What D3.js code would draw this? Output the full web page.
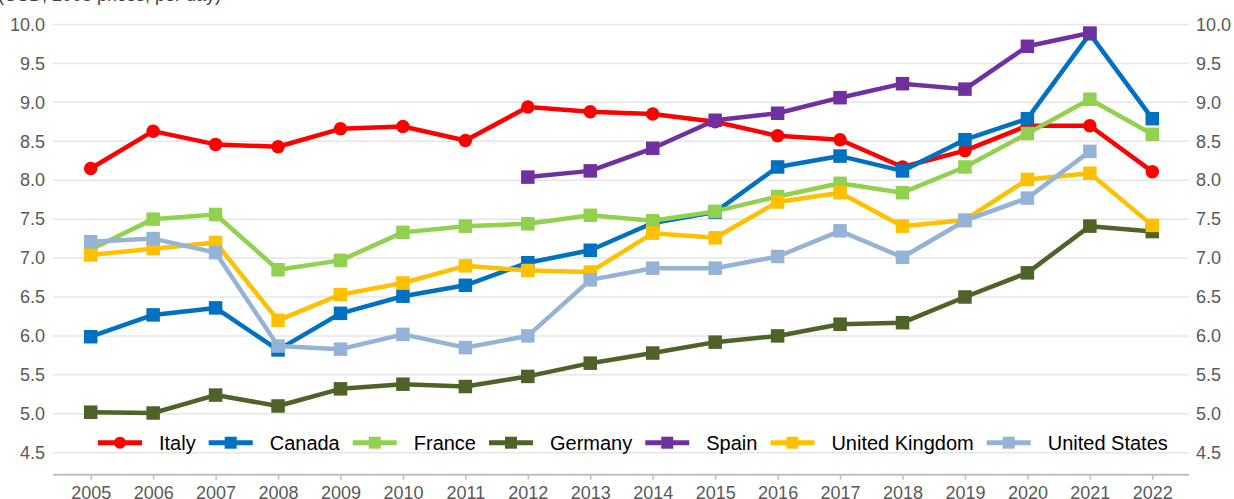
<!DOCTYPE html>
<html>
<head>
<meta charset="utf-8">
<script src="https://cdn.jsdelivr.net/npm/d3@7/dist/d3.min.js"></script>
<style>
	body { margin: 0; background: #fff; }
	svg { display: block; font-family: "Liberation Sans", Arial, sans-serif; }
</style>
</head>
<body>
<div id="chart-area"></div>
<script>

// data
var years = ['2005','2006','2007','2008','2009','2010','2011','2012','2013','2014','2015','2016','2017','2018','2019','2020','2021','2022'];

var italy   = [8.15, 8.63, 8.46, 8.43, 8.66, 8.69, 8.51, 8.94, 8.88, 8.85, 8.75, 8.57, 8.52, 8.17, 8.38, 8.70, 8.70, 8.11];
var canada  = [5.99, 6.27, 6.36, 5.82, 6.29, 6.51, 6.65, 6.94, 7.10, 7.45, 7.59, 8.17, 8.31, 8.12, 8.52, 8.79, 9.88, 8.79];
var france  = [7.11, 7.50, 7.56, 6.85, 6.97, 7.33, 7.41, 7.44, 7.55, 7.48, 7.60, 7.79, 7.96, 7.84, 8.17, 8.60, 9.04, 8.59];
var germany = [5.02, 5.01, 5.24, 5.10, 5.32, 5.38, 5.35, 5.48, 5.65, 5.78, 5.92, 6.00, 6.15, 6.17, 6.50, 6.81, 7.41, 7.34];
var spain   = [null, null, null, null, null, null, null, 8.04, 8.12, 8.41, 8.77, 8.86, 9.06, 9.24, 9.17, 9.72, 9.89, null];
var uk      = [7.04, 7.12, 7.20, 6.20, 6.53, 6.68, 6.90, 6.84, 6.82, 7.32, 7.26, 7.72, 7.84, 7.41, 7.49, 8.01, 8.09, 7.42];
var us      = [7.21, 7.25, 7.07, 5.87, 5.83, 6.02, 5.85, 6.00, 6.72, 6.87, 6.87, 7.02, 7.35, 7.01, 7.48, 7.77, 8.37, null];

var yTicks = [4.5, 5.0, 5.5, 6.0, 6.5, 7.0, 7.5, 8.0, 8.5, 9.0, 9.5, 10.0];

var series = [
	{ name: 'Italy',          values: italy,   color: '#ff0000', shape: 'circle' },
	{ name: 'Canada',         values: canada,  color: '#0070c0', shape: 'square' },
	{ name: 'France',         values: france,  color: '#92d050', shape: 'square' },
	{ name: 'Germany',        values: germany, color: '#4f6228', shape: 'square' },
	{ name: 'Spain',          values: spain,   color: '#7030a0', shape: 'square' },
	{ name: 'United Kingdom', values: uk,      color: '#ffc000', shape: 'square' },
	{ name: 'United States',  values: us,      color: '#95b3d7', shape: 'square' }
];

var W = 1234, H = 499;
var plotLeft = 53, plotRight = 1189, axisY = 474.7;

var svg = d3.select('#chart-area')
	.append('svg')
	.attr('width', W)
	.attr('height', H);

var x = d3.scalePoint().domain(years).range([90.7, 1152.3]);
var y = d3.scaleLinear().domain([4.5, 10]).range([452.7, 24.5]);

// unit line, mostly above the top edge as in the picture
svg.append('text')
	.attr('x', -2)
	.attr('y', 1)
	.attr('font-size', '18px')
	.attr('fill', '#404040')
	.text('(USD, 2005 prices, per day)');

// gridlines
svg.append('g').selectAll('line')
	.data(yTicks)
	.enter().append('line')
		.attr('x1', plotLeft)
		.attr('x2', plotRight)
		.attr('y1', d => y(d))
		.attr('y2', d => y(d))
		.attr('stroke', '#e6e6e6')
		.attr('stroke-width', 1.5);

// left + right axes (labels only)
var fmt = d3.format('.1f');
var leftAxis = d3.axisLeft(y).tickValues(yTicks).tickFormat(fmt).tickSize(0).tickPadding(8);
var rightAxis = d3.axisRight(y).tickValues(yTicks).tickFormat(fmt).tickSize(0).tickPadding(7);

var gl = svg.append('g').attr('transform', 'translate(' + plotLeft + ',0)').call(leftAxis);
var gr = svg.append('g').attr('transform', 'translate(' + plotRight + ',0)').call(rightAxis);
[gl, gr].forEach(g => {
	g.select('.domain').remove();
	g.selectAll('text')
		.attr('font-family', '"Liberation Sans", Arial, sans-serif')
		.attr('font-size', '18px')
		.attr('fill', '#595959');
});

// bottom axis
var bottomAxis = d3.axisBottom(x).tickSize(5).tickPadding(7);
var gb = svg.append('g').attr('transform', 'translate(0,' + axisY + ')').call(bottomAxis);
gb.select('.domain').remove();
gb.selectAll('line').attr('stroke', '#bfbfbf').attr('stroke-width', 1.5);
gb.selectAll('text')
	.attr('font-family', '"Liberation Sans", Arial, sans-serif')
	.attr('font-size', '18px')
	.attr('fill', '#595959');
svg.append('line')
	.attr('x1', plotLeft).attr('x2', plotRight)
	.attr('y1', axisY).attr('y2', axisY)
	.attr('stroke', '#bfbfbf')
	.attr('stroke-width', 2);

// lines + markers
var line = d3.line()
	.defined(d => d != null)
	.x((d, i) => x(years[i]))
	.y(d => y(d));

function drawMarker(sel, s, cx, cy, size) {
	if (s.shape == 'circle') {
		sel.append('circle')
			.attr('cx', cx).attr('cy', cy).attr('r', size / 2)
			.attr('fill', s.color);
	} else {
		sel.append('rect')
			.attr('x', cx - size / 2).attr('y', cy - size / 2)
			.attr('width', size).attr('height', size)
			.attr('fill', s.color);
	}
}

series.forEach(s => {
	var g = svg.append('g');
	g.append('path')
		.attr('d', line(s.values))
		.attr('fill', 'none')
		.attr('stroke', s.color)
		.attr('stroke-width', 4.5)
		.attr('stroke-linejoin', 'round');
	s.values.forEach((v, i) => {
		if (v == null) return;
		drawMarker(g, s, x(years[i]), y(v), 13.5);
	});
});

// legend
var legendY = 442.7, lx = 98;
series.forEach(s => {
	var g = svg.append('g');
	g.append('line')
		.attr('x1', lx).attr('x2', lx + 44)
		.attr('y1', legendY).attr('y2', legendY)
		.attr('stroke', s.color)
		.attr('stroke-width', 5);
	drawMarker(g, s, lx + 22, legendY, 12);
	var t = g.append('text')
		.attr('x', lx + 61)
		.attr('y', legendY)
		.attr('dy', '0.35em')
		.attr('font-size', '20px')
		.attr('fill', '#000')
		.text(s.name);
	lx += 61 + t.node().getComputedTextLength() + 13;
});

</script>
</body>
</html>
